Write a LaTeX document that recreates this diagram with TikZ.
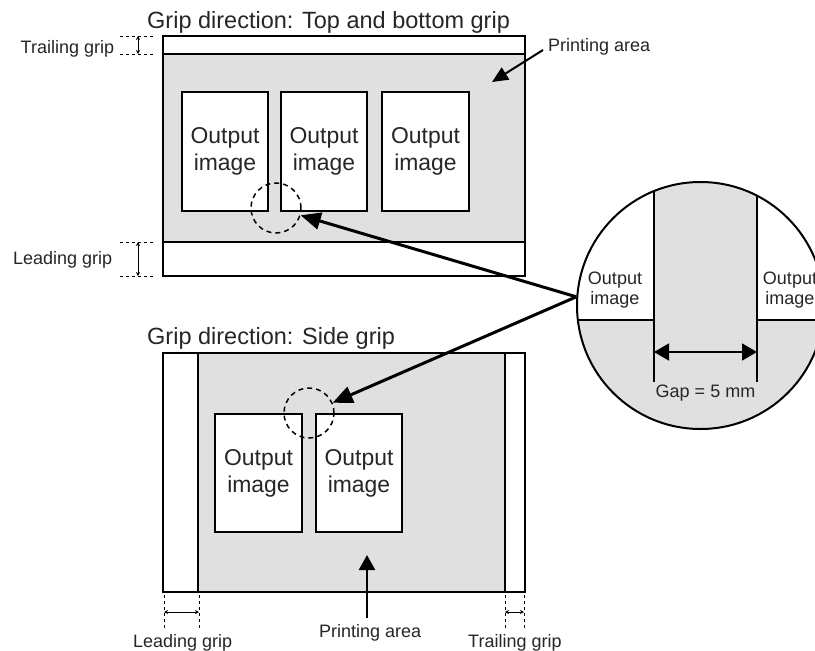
\documentclass[tikz,border=0pt]{standalone}
\usepackage{fontspec}
\setmainfont{Liberation Sans}
\usetikzlibrary{arrows.meta}
\definecolor{areagray}{RGB}{224,224,224}
\definecolor{txtc}{RGB}{38,38,38}
\begin{document}
\begin{tikzpicture}[x=1pt,y=-1pt,
  lbl/.style={text=txtc, inner sep=0pt, font=\fontsize{18}{20}\selectfont},
  ttl/.style={text=txtc, inner sep=0pt, font=\fontsize{23.5}{27}\selectfont},
  outbox/.style={draw, fill=white, line width=1.5pt, inner sep=0pt, align=center, text=txtc, font=\fontsize{22.9}{27}\selectfont},
  pageline/.style={line width=2pt},
  divline/.style={line width=1.5pt},
  dcirc/.style={circle, draw, line width=1.5pt, dash pattern=on 5pt off 4pt, minimum size=50pt, inner sep=0pt},
  bigarrow/.style={line width=3pt, -{Triangle[length=20pt,width=17pt]}},
  paarrow/.style={line width=2pt, -{Triangle[length=16pt,width=14pt]}},
  gripdash/.style={line width=0.8pt, dash pattern=on 3pt off 3pt},
  griparrow/.style={line width=0.8pt, {Stealth[length=4pt,width=4pt]}-{Stealth[length=4pt,width=4pt]}}
]
\clip (0,0) rectangle (815,651);
\fill[white] (0,0) rectangle (815,651);

% ---------- Top figure ----------
\node[ttl, anchor=base west] (t1) at (147,28.3) {Grip direction: Top and bottom grip};
\fill[areagray] (163,54) rectangle (525,242);
\draw[divline] (163,54) -- (525,54);
\draw[divline] (163,242) -- (525,242);
\draw[pageline] (163,36) rectangle (525,276);

\node[outbox, minimum width=86pt, minimum height=119pt] (b1) at (225,151.5) {Output\\image};
\node[outbox, minimum width=86pt, minimum height=119pt] (b2) at (324,151.5) {Output\\image};
\node[outbox, minimum width=87pt, minimum height=119pt] (b3) at (425.5,151.5) {Output\\image};
\node[dcirc] (dc1) at (276,208) {};

\node[lbl, anchor=base west] (pa1) at (548,51) {Printing area};
\coordinate (pa1tail) at (543,50);
\coordinate (pa1tip) at (492,82);
\draw[paarrow] (pa1tail) -- (pa1tip);

\node[lbl, anchor=base west] (tg1) at (20.5,53.3) {Trailing grip};
\draw[gripdash] (120,36) -- (154,36);
\draw[gripdash] (120,54) -- (154,54);
\draw[griparrow] (138,36) -- (138,54);

\node[lbl, anchor=base west] (lg1) at (13,264) {Leading grip};
\draw[gripdash] (120,242) -- (154,242);
\draw[gripdash] (120,276) -- (154,276);
\draw[griparrow] (138,242) -- (138,276);

% ---------- Bottom figure ----------
\node[ttl, anchor=base west] (t2) at (147,344) {Grip direction: Side grip};
\fill[areagray] (198,353) rectangle (505,592);
\draw[divline] (198,353) -- (198,592);
\draw[divline] (505,353) -- (505,592);
\draw[pageline] (163,353) rectangle (525,592);

\node[outbox, minimum width=87pt, minimum height=118pt] (c1) at (258.5,473) {Output\\image};
\node[outbox, minimum width=86pt, minimum height=118pt] (c2) at (359,473) {Output\\image};
\node[dcirc] (dc2) at (309,413) {};

\node[lbl, anchor=base west] (pa2) at (319,637) {Printing area};
\coordinate (pa2tail) at (367,618);
\coordinate (pa2tip) at (367,555);
\draw[line width=2.5pt, -{Triangle[length=15pt,width=16pt]}] (pa2tail) -- (pa2tip);

\node[lbl, anchor=base west] (lg2) at (133,647) {Leading grip};
\draw[gripdash] (164,595) -- (164,630);
\draw[gripdash] (199,595) -- (199,630);
\draw[griparrow] (164,612) -- (199,612);

\node[lbl, anchor=base west] (tg2) at (468,647) {Trailing grip};
\draw[gripdash] (505,595) -- (505,630);
\draw[gripdash] (524,595) -- (524,630);
\draw[griparrow] (505,612) -- (524,612);

% ---------- Zoom circle ----------
\begin{scope}
  \clip (700.5,305.5) circle (123.5);
  \fill[areagray] (570,175) rectangle (830,435);
  \fill[white] (570,175) rectangle (654,320);
  \fill[white] (757,175) rectangle (830,320);
  \draw[divline] (654,175) -- (654,382);
  \draw[divline] (757,175) -- (757,382);
  \draw[divline] (570,320) -- (654,320);
  \draw[divline] (757,320) -- (830,320);
\end{scope}
\node[circle, draw, line width=2pt, minimum size=247pt, inner sep=0pt] (zoom) at (700.5,305.5) {};
\node[lbl, align=center] (zl) at (615,290) {Output\\image};
\node[lbl, align=center] (zr) at (790,290) {Output\\image};
\coordinate (gapL) at (654,352);
\coordinate (gapR) at (757,352);
\draw[line width=1.5pt, {Triangle[length=15pt,width=17pt]}-{Triangle[length=15pt,width=17pt]}] (gapL) -- (gapR);
\node[lbl, anchor=base] (gap) at (705.5,397) {Gap = 5 mm};

% ---------- Connectors ----------
\draw[bigarrow] (zoom.176) -- (dc1);
\draw[bigarrow] (zoom.176) -- (dc2);
\end{tikzpicture}
\end{document}
